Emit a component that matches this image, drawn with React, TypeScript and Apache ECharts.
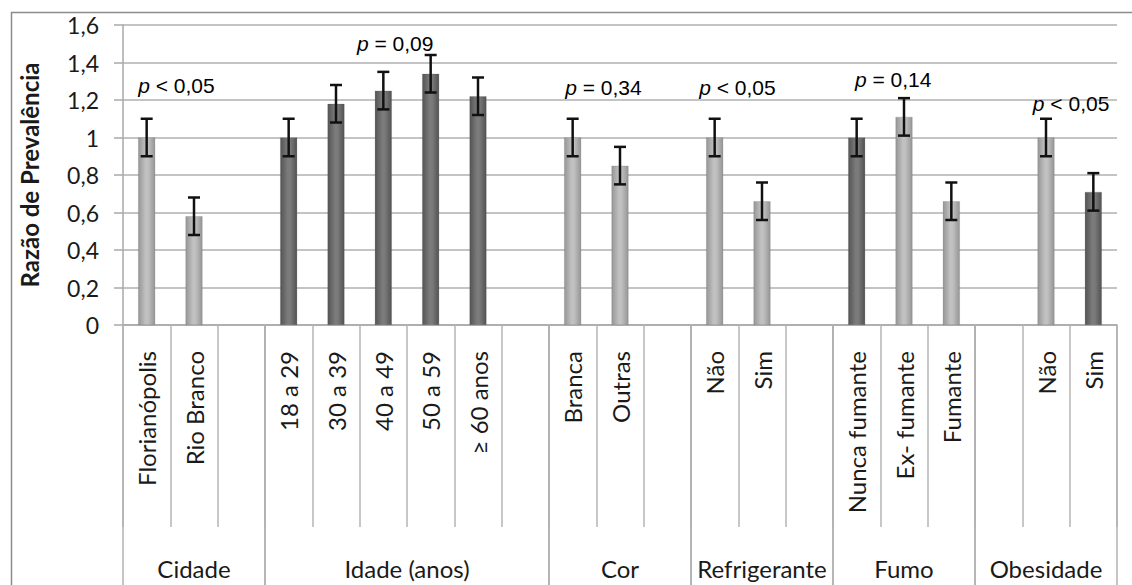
import React, { useEffect, useRef } from "react";
import * as echarts from "echarts";

const categories = [
  "Florianópolis", "Rio Branco", "",
  "18 a 29", "30 a 39", "40 a 49", "50 a 59", "≥ 60 anos", "",
  "Branca", "Outras", "",
  "Não", "Sim", "",
  "Nunca fumante", "Ex- fumante", "Fumante",
  "", "Não", "Sim",
];
const values = [
  1.0, 0.58, null,
  1.0, 1.18, 1.25, 1.34, 1.22, null,
  1.0, 0.85, null,
  1.0, 0.66, null,
  1.0, 1.11, 0.66,
  null, 1.0, 0.71,
];
const lows = [
  0.9, 0.48, null,
  0.9, 1.08, 1.15, 1.24, 1.12, null,
  0.9, 0.75, null,
  0.9, 0.56, null,
  0.9, 1.01, 0.56,
  null, 0.9, 0.61,
];
const highs = [
  1.1, 0.68, null,
  1.1, 1.28, 1.35, 1.44, 1.32, null,
  1.1, 0.95, null,
  1.1, 0.76, null,
  1.1, 1.21, 0.76,
  null, 1.1, 0.81,
];
const shades = [
  "L", "L", "",
  "D", "D", "D", "D", "D", "",
  "L", "L", "",
  "L", "L", "",
  "D", "L", "L",
  "", "L", "D",
];
const groupNames = ["Cidade", "Idade (anos)", "Cor", "Refrigerante", "Fumo", "Obesidade"];
const groupStart = [0, 3, 9, 12, 15, 18];
const groupEnd = [2, 8, 11, 14, 17, 20];

const pOps = ["<", "=", "=", "<", "=", "<"];
const pValues = ["0,05", "0,09", "0,34", "0,05", "0,14", "0,05"];
const pPos = [0.63, 5.25, 9.65, 12.48, 15.77, 19.53];
const pY = [1.28, 1.504, 1.269, 1.269, 1.307, 1.179];

const yTicks = { min: 0, max: 1.6, interval: 0.2 };

const FONT = "Lato, 'Open Sans', sans-serif";

function gradient(kind: string) {
  if (kind === "D") {
    return new echarts.graphic.LinearGradient(0, 0, 1, 0, [
      { offset: 0, color: "#545454" },
      { offset: 0.45, color: "#7c7c7c" },
      { offset: 0.6, color: "#7a7a7a" },
      { offset: 1, color: "#525252" },
    ]);
  }
  return new echarts.graphic.LinearGradient(0, 0, 1, 0, [
    { offset: 0, color: "#969696" },
    { offset: 0.45, color: "#c2c2c2" },
    { offset: 0.6, color: "#bfbfbf" },
    { offset: 1, color: "#959595" },
  ]);
}

export default function App() {
  const ref = useRef<HTMLDivElement>(null);
  useEffect(() => {
    if (!ref.current) return;
    const chart = echarts.init(ref.current, undefined, { renderer: "svg" });

    const barData = values.map((v, i) =>
      v == null ? null : { value: v, itemStyle: { color: gradient(shades[i]) } }
    );
    const errData: number[][] = [];
    values.forEach((v, i) => {
      if (v != null) errData.push([i, lows[i] as number, highs[i] as number]);
    });
    const groupData = groupNames.map((_, i) => [groupStart[i], 0, groupEnd[i]]);
    const pData = pValues.map((_, i) => [0, pY[i], pPos[i]]);

    const option: any = {
      animation: false,
      backgroundColor: "#ffffff",
      graphic: [
        {
          type: "rect",
          left: 9,
          top: 10,
          shape: { width: 1300, height: 700 },
          style: { fill: "none", stroke: "#8c8c8c", lineWidth: 1.5 },
          silent: true,
          z: -10,
        },
      ],
      grid: { left: 123, right: 15, top: 25, bottom: 260, containLabel: false },
      xAxis: {
        type: "category",
        data: categories,
        boundaryGap: true,
        axisLine: { show: true, lineStyle: { color: "#a8a8a8", width: 1.5 } },
        axisTick: {
          show: true,
          interval: 0,
          length: 202,
          lineStyle: { color: "#b4b4b4", width: 1.5 },
        },
        axisLabel: {
          interval: 0,
          rotate: 90,
          margin: 26,
          fontFamily: FONT,
          fontSize: 24,
          color: "#1a1a1a",
        },
        splitLine: { show: false },
      },
      yAxis: {
        type: "value",
        min: yTicks.min,
        max: yTicks.max,
        interval: yTicks.interval,
        name: "Razão de Prevalência",
        nameLocation: "middle",
        nameGap: 82,
        nameTextStyle: {
          fontFamily: FONT,
          fontWeight: "bold",
          fontSize: 24,
          color: "#1a1a1a",
        },
        axisLine: { show: true, lineStyle: { color: "#a8a8a8", width: 1.5 } },
        axisTick: { show: true, length: 9, lineStyle: { color: "#a8a8a8", width: 1.5 } },
        axisLabel: {
          margin: 24,
          fontFamily: FONT,
          fontSize: 23,
          color: "#1a1a1a",
          formatter: (v: number) => String(Number(v.toFixed(1))).replace(".", ","),
        },
        splitLine: { show: true, lineStyle: { color: "#b0b0b0", width: 1.5 } },
      },
      series: [
        {
          type: "bar",
          data: barData,
          barWidth: 17,
          itemStyle: { borderColor: "rgba(70,70,70,0.35)", borderWidth: 0.5 },
        },
        {
          type: "custom",
          data: errData,
          encode: { x: 0, y: [1, 2] },
          z: 5,
          renderItem: (params: any, api: any) => {
            const i = api.value(0);
            const lo = api.coord([i, api.value(1)]);
            const hi = api.coord([i, api.value(2)]);
            const w = 6;
            const st = { stroke: "#111111", lineWidth: 2.5 };
            return {
              type: "group",
              children: [
                { type: "line", shape: { x1: hi[0], y1: hi[1], x2: lo[0], y2: lo[1] }, style: st },
                { type: "line", shape: { x1: hi[0] - w, y1: hi[1], x2: hi[0] + w, y2: hi[1] }, style: st },
                { type: "line", shape: { x1: lo[0] - w, y1: lo[1], x2: lo[0] + w, y2: lo[1] }, style: st },
              ],
            };
          },
        },
        {
          type: "custom",
          data: groupData,
          encode: { x: [0, 2], y: 1 },
          clip: false,
          silent: true,
          renderItem: (params: any, api: any) => {
            const s = api.value(0);
            const e = api.value(2);
            const bw = api.size([1, 0])[0];
            const ps = api.coord([s, 0]);
            const pe = api.coord([e, 0]);
            const left = ps[0] - bw / 2;
            const right = pe[0] + bw / 2;
            const y0 = ps[1];
            const st = { stroke: "#b0b0b0", lineWidth: 1.5 };
            return {
              type: "group",
              children: [
                { type: "line", shape: { x1: left, y1: y0, x2: left, y2: y0 + 270 }, style: st },
                { type: "line", shape: { x1: right, y1: y0, x2: right, y2: y0 + 270 }, style: st },
                {
                  type: "text",
                  x: (left + right) / 2,
                  y: y0 + 243,
                  style: {
                    text: groupNames[params.dataIndex],
                    fontFamily: FONT,
                    fontSize: 24,
                    fill: "#1a1a1a",
                    align: "center",
                    verticalAlign: "middle",
                  },
                },
              ],
            };
          },
        },
        {
          type: "custom",
          data: pData,
          encode: { x: 0, y: 1 },
          clip: false,
          silent: true,
          z: 6,
          renderItem: (params: any, api: any) => {
            const bw = api.size([1, 0])[0];
            const p0 = api.coord([0, api.value(1)]);
            const x = p0[0] + api.value(2) * bw;
            const k = params.dataIndex;
            return {
              type: "text",
              x,
              y: p0[1],
              style: {
                text: "{i|p}{n| " + pOps[k] + " " + pValues[k] + "}",
                align: "center",
                verticalAlign: "middle",
                rich: {
                  i: { fontFamily: "'Liberation Sans', Arial, sans-serif", fontStyle: "italic", fontSize: 21, fill: "#000" },
                  n: { fontFamily: "'Liberation Sans', Arial, sans-serif", fontSize: 21, fill: "#000" },
                },
              },
            };
          },
        },
      ],
    };
    chart.setOption(option);
    return () => chart.dispose();
  }, []);
  return (
    <div
      ref={ref}
      style={{ position: "absolute", left: 0, top: 0, width: 1132, height: 585 }}
    />
  );
}
